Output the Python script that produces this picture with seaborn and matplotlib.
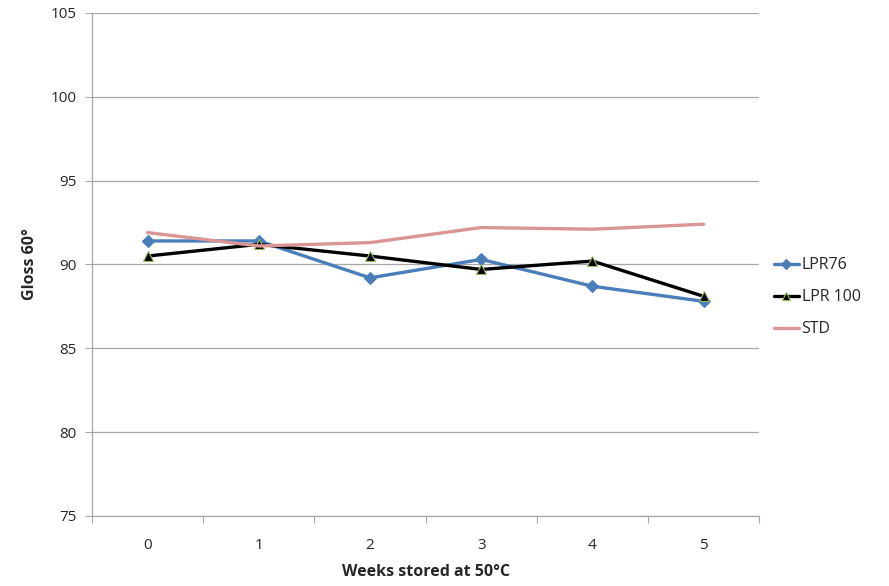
import pandas as pd
import matplotlib.pyplot as plt
import seaborn as sns

weeks = [0, 1, 2, 3, 4, 5]
lpr76 = [91.4, 91.4, 89.2, 90.3, 88.7, 87.8]
lpr100 = [90.5, 91.2, 90.5, 89.7, 90.2, 88.1]
std = [91.9, 91.1, 91.3, 92.2, 92.1, 92.4]
series_names = ["LPR76", "LPR 100", "STD"]

df = pd.DataFrame({"Week": weeks * 3,
                   "Gloss": lpr76 + lpr100 + std,
                   "Series": [s for s in series_names for _ in weeks]})

sns.set_style("white")
plt.rcParams['font.family'] = ['Open Sans', 'DejaVu Sans']

fig = plt.figure(figsize=(8.89, 5.86), dpi=100)
ax = fig.add_axes([0.1035, 0.1195, 0.7505, 0.8585])

palette = {"LPR76": "#4A7EBB", "LPR 100": "black", "STD": "#D99694"}
markers = {"LPR76": "D", "LPR 100": "^", "STD": ""}
sizes = {"LPR76": 6, "LPR 100": 7, "STD": 0}
for name in series_names:
    sub = df[df["Series"] == name]
    mk = markers[name]
    sns.lineplot(data=sub, x="Week", y="Gloss", ax=ax, color=palette[name],
                 linewidth=2.4, label=name,
                 marker=mk if mk else None, markersize=sizes[name],
                 markeredgecolor="#9BBB59" if name == "LPR 100" else palette[name],
                 markeredgewidth=0.8)

ax.set_xlim(-0.5, 5.5)
ax.set_ylim(75, 105)
ax.set_yticks(range(75, 106, 5))
ax.set_xticks([x - 0.5 for x in range(7)])
ax.set_xticklabels([])
ax.set_xticks(weeks, minor=True)
ax.set_xticklabels([str(w) for w in weeks], minor=True)
ax.tick_params(axis="x", which="major", length=5, color="#A6A6A6", direction="out", bottom=True)
ax.tick_params(axis="x", which="minor", length=0, pad=16, labelsize=11)
ax.tick_params(axis="y", length=5, color="#A6A6A6", direction="out", left=True, labelsize=11, pad=6)
ax.grid(axis="y", color="#A6A6A6", linewidth=0.9)
for side in ["top", "right"]:
    ax.spines[side].set_visible(False)
for side in ["left", "bottom"]:
    ax.spines[side].set_color("#A6A6A6")
    ax.spines[side].set_linewidth(0.9)

ax.set_xlabel("Weeks stored at 50°C", fontsize=11.5, fontweight="bold", labelpad=8)
ax.set_ylabel("Gloss 60°", fontsize=11.5, fontweight="bold", labelpad=9)

leg = ax.legend(loc="center left", bbox_to_anchor=(1.0, 0.435), frameon=False,
                fontsize=11.5, handlelength=1.6, handletextpad=0.15, labelspacing=1.0,
                markerscale=0.8)

fig.savefig("out.png", dpi=100)
